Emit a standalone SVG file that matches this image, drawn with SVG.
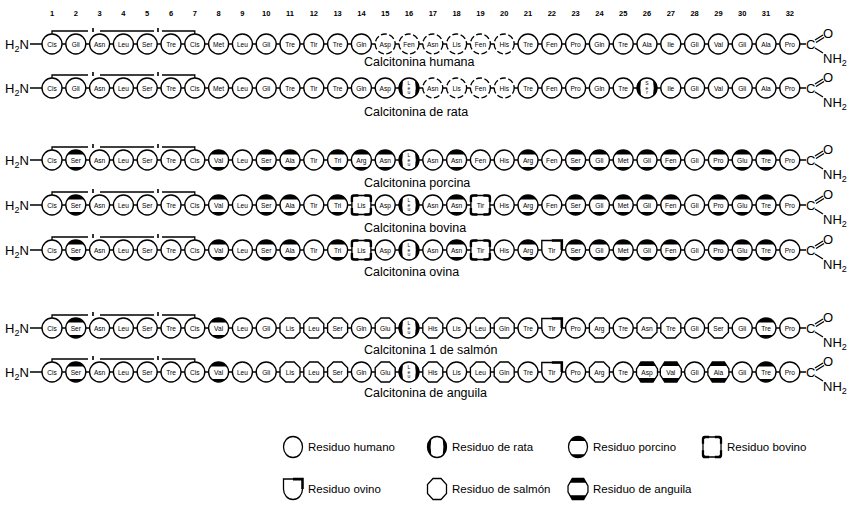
<svg xmlns="http://www.w3.org/2000/svg" xmlns:xlink="http://www.w3.org/1999/xlink" width="847" height="521" viewBox="0 0 847 521">
<style>
text{font-family:"Liberation Sans",Arial,sans-serif;fill:#000}
.t{font-size:6.6px;text-anchor:middle;dominant-baseline:central}
.v{font-size:5px;text-anchor:middle}
.num{font-size:7.5px;font-weight:bold;text-anchor:middle}
.lab{font-size:12.5px}
.chem{font-size:13px}
.sub{font-size:9px}
.leg{font-size:11.5px}
.bond{stroke:#000;stroke-width:1.3;fill:none}
.sh{fill:#fff;stroke:#000;stroke-width:1.35}
</style>
<defs>
<g id="h"><circle r="10" class="sh"/></g>
<g id="hd"><circle r="10" class="sh" stroke-dasharray="6 2.5"/></g>
<g id="rat"><circle r="10" class="sh"/><path d="M-4.5,-9A10,10 0 0 0 -4.5,9L-6,7.5Q-7.5,0 -6,-7.5Z M4.5,-9A10,10 0 0 1 4.5,9L6,7.5Q7.5,0 6,-7.5Z" fill="#000"/></g>
<g id="por"><circle r="10" class="sh"/><path d="M-8.3,-5.6A10,10 0 0 1 8.3,-5.6Z" fill="#000"/><path d="M-7.1,7A10,10 0 0 0 7.1,7Z" fill="#000"/></g>
<g id="bov"><rect x="-9.5" y="-9.5" width="19" height="19" rx="4" class="sh"/><path d="M-9.5,-3V-7.5Q-9.5,-9.5 -7.5,-9.5H-3 M3,-9.5H7.5Q9.5,-9.5 9.5,-7.5V-3 M9.5,3V7.5Q9.5,9.5 7.5,9.5H3 M-3,9.5H-7.5Q-9.5,9.5 -9.5,7.5V3" fill="none" stroke="#000" stroke-width="2.4"/></g>
<g id="ovi"><path d="M-10,0V-9.5H10V0A10,10 0 0 1 -10,0Z" class="sh"/><path d="M0,-9.5H10V0" fill="none" stroke="#000" stroke-width="2.6"/></g>
<g id="sal"><polygon points="-4.2,-10 4.2,-10 10,-4.2 10,4.2 4.2,10 -4.2,10 -10,4.2 -10,-4.2" class="sh"/></g>
<g id="ang"><polygon points="-6,-10 6,-10 10.5,-3 10.5,3 6,10 -6,10 -10.5,3 -10.5,-3" class="sh"/><path d="M-6,-10H6L8.6,-6H-8.6Z M-6,10H6L8.6,6H-8.6Z" fill="#000"/></g>
</defs>

<g id="numbers">
<text class="num" x="52" y="16">1</text><text class="num" x="75.8" y="16">2</text><text class="num" x="99.6" y="16">3</text><text class="num" x="123.4" y="16">4</text><text class="num" x="147.2" y="16">5</text><text class="num" x="171" y="16">6</text><text class="num" x="194.8" y="16">7</text><text class="num" x="218.6" y="16">8</text><text class="num" x="242.4" y="16">9</text><text class="num" x="266.2" y="16">10</text><text class="num" x="290" y="16">11</text><text class="num" x="313.8" y="16">12</text><text class="num" x="337.6" y="16">13</text><text class="num" x="361.4" y="16">14</text><text class="num" x="385.2" y="16">15</text><text class="num" x="409" y="16">16</text><text class="num" x="432.8" y="16">17</text><text class="num" x="456.6" y="16">18</text><text class="num" x="480.4" y="16">19</text><text class="num" x="504.2" y="16">20</text><text class="num" x="528" y="16">21</text><text class="num" x="551.8" y="16">22</text><text class="num" x="575.6" y="16">23</text><text class="num" x="599.4" y="16">24</text><text class="num" x="623.2" y="16">25</text><text class="num" x="647" y="16">26</text><text class="num" x="670.8" y="16">27</text><text class="num" x="694.6" y="16">28</text><text class="num" x="718.4" y="16">29</text><text class="num" x="742.2" y="16">30</text><text class="num" x="766" y="16">31</text><text class="num" x="789.8" y="16">32</text>
</g>

<g id="connectors">
<g transform="translate(0,44)"><path class="bond" d="M30,0H806 M52,-10V-13H88 M100,-13H154 M162,-13H194.8V-10"/><path d="M93,-16V-12 M158,-16V-12" stroke="#000" stroke-width="1.6"/><path class="bond" d="M815,-4L823,-9 M816,-1.5L824,-6.5 M815,4L823,9"/></g>
<g transform="translate(0,88)"><path class="bond" d="M30,0H806 M52,-10V-13H88 M100,-13H154 M162,-13H194.8V-10"/><path d="M93,-16V-12 M158,-16V-12" stroke="#000" stroke-width="1.6"/><path class="bond" d="M815,-4L823,-9 M816,-1.5L824,-6.5 M815,4L823,9"/></g>
<g transform="translate(0,160)"><path class="bond" d="M30,0H806 M52,-10V-13H88 M100,-13H154 M162,-13H194.8V-10"/><path d="M93,-16V-12 M158,-16V-12" stroke="#000" stroke-width="1.6"/><path class="bond" d="M815,-4L823,-9 M816,-1.5L824,-6.5 M815,4L823,9"/></g>
<g transform="translate(0,205)"><path class="bond" d="M30,0H806 M52,-10V-13H88 M100,-13H154 M162,-13H194.8V-10"/><path d="M93,-16V-12 M158,-16V-12" stroke="#000" stroke-width="1.6"/><path class="bond" d="M815,-4L823,-9 M816,-1.5L824,-6.5 M815,4L823,9"/></g>
<g transform="translate(0,250)"><path class="bond" d="M30,0H806 M52,-10V-13H88 M100,-13H154 M162,-13H194.8V-10"/><path d="M93,-16V-12 M158,-16V-12" stroke="#000" stroke-width="1.6"/><path class="bond" d="M815,-4L823,-9 M816,-1.5L824,-6.5 M815,4L823,9"/></g>
<g transform="translate(0,328)"><path class="bond" d="M30,0H806 M52,-10V-13H88 M100,-13H154 M162,-13H194.8V-10"/><path d="M93,-16V-12 M158,-16V-12" stroke="#000" stroke-width="1.6"/><path class="bond" d="M815,-4L823,-9 M816,-1.5L824,-6.5 M815,4L823,9"/></g>
<g transform="translate(0,372)"><path class="bond" d="M30,0H806 M52,-10V-13H88 M100,-13H154 M162,-13H194.8V-10"/><path d="M93,-16V-12 M158,-16V-12" stroke="#000" stroke-width="1.6"/><path class="bond" d="M815,-4L823,-9 M816,-1.5L824,-6.5 M815,4L823,9"/></g>
</g>

<g id="row-humana" transform="translate(0,44)">
<text class="chem" x="5" y="5">H<tspan class="sub" dy="3">2</tspan><tspan dy="-3">N</tspan></text>
<g id="r1-1" transform="translate(52)"><use href="#h"/><text class="t">Cis</text></g>
<g id="r1-2" transform="translate(75.8)"><use href="#h"/><text class="t">Gli</text></g>
<g id="r1-3" transform="translate(99.6)"><use href="#h"/><text class="t">Asn</text></g>
<g id="r1-4" transform="translate(123.4)"><use href="#h"/><text class="t">Leu</text></g>
<g id="r1-5" transform="translate(147.2)"><use href="#h"/><text class="t">Ser</text></g>
<g id="r1-6" transform="translate(171)"><use href="#h"/><text class="t">Tre</text></g>
<g id="r1-7" transform="translate(194.8)"><use href="#h"/><text class="t">Cis</text></g>
<g id="r1-8" transform="translate(218.6)"><use href="#h"/><text class="t">Met</text></g>
<g id="r1-9" transform="translate(242.4)"><use href="#h"/><text class="t">Leu</text></g>
<g id="r1-10" transform="translate(266.2)"><use href="#h"/><text class="t">Gli</text></g>
<g id="r1-11" transform="translate(290)"><use href="#h"/><text class="t">Tre</text></g>
<g id="r1-12" transform="translate(313.8)"><use href="#h"/><text class="t">Tir</text></g>
<g id="r1-13" transform="translate(337.6)"><use href="#h"/><text class="t">Tre</text></g>
<g id="r1-14" transform="translate(361.4)"><use href="#h"/><text class="t">Gln</text></g>
<g id="r1-15" transform="translate(385.2)"><use href="#hd"/><text class="t">Asp</text></g>
<g id="r1-16" transform="translate(409)"><use href="#hd"/><text class="t">Fen</text></g>
<g id="r1-17" transform="translate(432.8)"><use href="#hd"/><text class="t">Asn</text></g>
<g id="r1-18" transform="translate(456.6)"><use href="#hd"/><text class="t">Lis</text></g>
<g id="r1-19" transform="translate(480.4)"><use href="#hd"/><text class="t">Fen</text></g>
<g id="r1-20" transform="translate(504.2)"><use href="#hd"/><text class="t">His</text></g>
<g id="r1-21" transform="translate(528)"><use href="#h"/><text class="t">Tre</text></g>
<g id="r1-22" transform="translate(551.8)"><use href="#h"/><text class="t">Fen</text></g>
<g id="r1-23" transform="translate(575.6)"><use href="#h"/><text class="t">Pro</text></g>
<g id="r1-24" transform="translate(599.4)"><use href="#h"/><text class="t">Gln</text></g>
<g id="r1-25" transform="translate(623.2)"><use href="#h"/><text class="t">Tre</text></g>
<g id="r1-26" transform="translate(647)"><use href="#h"/><text class="t">Ala</text></g>
<g id="r1-27" transform="translate(670.8)"><use href="#h"/><text class="t">Ile</text></g>
<g id="r1-28" transform="translate(694.6)"><use href="#h"/><text class="t">Gli</text></g>
<g id="r1-29" transform="translate(718.4)"><use href="#h"/><text class="t">Val</text></g>
<g id="r1-30" transform="translate(742.2)"><use href="#h"/><text class="t">Gli</text></g>
<g id="r1-31" transform="translate(766)"><use href="#h"/><text class="t">Ala</text></g>
<g id="r1-32" transform="translate(789.8)"><use href="#h"/><text class="t">Pro</text></g>
<text class="chem" x="806" y="5">C</text><text class="chem" x="823" y="-6">O</text><text class="chem" x="823" y="19">NH<tspan class="sub" dy="3">2</tspan></text>
<text class="lab" x="364" y="22">Calcitonina humana</text>
</g>

<g id="row-rata" transform="translate(0,88)">
<text class="chem" x="5" y="5">H<tspan class="sub" dy="3">2</tspan><tspan dy="-3">N</tspan></text>
<g id="r2-1" transform="translate(52)"><use href="#h"/><text class="t">Cis</text></g>
<g id="r2-2" transform="translate(75.8)"><use href="#h"/><text class="t">Gli</text></g>
<g id="r2-3" transform="translate(99.6)"><use href="#h"/><text class="t">Asn</text></g>
<g id="r2-4" transform="translate(123.4)"><use href="#h"/><text class="t">Leu</text></g>
<g id="r2-5" transform="translate(147.2)"><use href="#h"/><text class="t">Ser</text></g>
<g id="r2-6" transform="translate(171)"><use href="#h"/><text class="t">Tre</text></g>
<g id="r2-7" transform="translate(194.8)"><use href="#h"/><text class="t">Cis</text></g>
<g id="r2-8" transform="translate(218.6)"><use href="#h"/><text class="t">Met</text></g>
<g id="r2-9" transform="translate(242.4)"><use href="#h"/><text class="t">Leu</text></g>
<g id="r2-10" transform="translate(266.2)"><use href="#h"/><text class="t">Gli</text></g>
<g id="r2-11" transform="translate(290)"><use href="#h"/><text class="t">Tre</text></g>
<g id="r2-12" transform="translate(313.8)"><use href="#h"/><text class="t">Tir</text></g>
<g id="r2-13" transform="translate(337.6)"><use href="#h"/><text class="t">Tre</text></g>
<g id="r2-14" transform="translate(361.4)"><use href="#h"/><text class="t">Gln</text></g>
<g id="r2-15" transform="translate(385.2)"><use href="#h"/><text class="t">Asp</text></g>
<g id="r2-16" transform="translate(409)"><use href="#rat"/><text class="v"><tspan x="0" y="-3">L</tspan><tspan x="0" y="1.5">e</tspan><tspan x="0" y="6">u</tspan></text></g>
<g id="r2-17" transform="translate(432.8)"><use href="#hd"/><text class="t">Asn</text></g>
<g id="r2-18" transform="translate(456.6)"><use href="#hd"/><text class="t">Lis</text></g>
<g id="r2-19" transform="translate(480.4)"><use href="#hd"/><text class="t">Fen</text></g>
<g id="r2-20" transform="translate(504.2)"><use href="#hd"/><text class="t">His</text></g>
<g id="r2-21" transform="translate(528)"><use href="#h"/><text class="t">Tre</text></g>
<g id="r2-22" transform="translate(551.8)"><use href="#h"/><text class="t">Fen</text></g>
<g id="r2-23" transform="translate(575.6)"><use href="#h"/><text class="t">Pro</text></g>
<g id="r2-24" transform="translate(599.4)"><use href="#h"/><text class="t">Gln</text></g>
<g id="r2-25" transform="translate(623.2)"><use href="#h"/><text class="t">Tre</text></g>
<g id="r2-26" transform="translate(647)"><use href="#rat"/><text class="v"><tspan x="0" y="-3">S</tspan><tspan x="0" y="1.5">e</tspan><tspan x="0" y="6">r</tspan></text></g>
<g id="r2-27" transform="translate(670.8)"><use href="#h"/><text class="t">Ile</text></g>
<g id="r2-28" transform="translate(694.6)"><use href="#h"/><text class="t">Gli</text></g>
<g id="r2-29" transform="translate(718.4)"><use href="#h"/><text class="t">Val</text></g>
<g id="r2-30" transform="translate(742.2)"><use href="#h"/><text class="t">Gli</text></g>
<g id="r2-31" transform="translate(766)"><use href="#h"/><text class="t">Ala</text></g>
<g id="r2-32" transform="translate(789.8)"><use href="#h"/><text class="t">Pro</text></g>
<text class="chem" x="806" y="5">C</text><text class="chem" x="823" y="-6">O</text><text class="chem" x="823" y="19">NH<tspan class="sub" dy="3">2</tspan></text>
<text class="lab" x="364" y="28">Calcitonina de rata</text>
</g>

<g id="row-porcina" transform="translate(0,160)">
<text class="chem" x="5" y="5">H<tspan class="sub" dy="3">2</tspan><tspan dy="-3">N</tspan></text>
<g id="r3-1" transform="translate(52)"><use href="#h"/><text class="t">Cis</text></g>
<g id="r3-2" transform="translate(75.8)"><use href="#por"/><text class="t">Ser</text></g>
<g id="r3-3" transform="translate(99.6)"><use href="#h"/><text class="t">Asn</text></g>
<g id="r3-4" transform="translate(123.4)"><use href="#h"/><text class="t">Leu</text></g>
<g id="r3-5" transform="translate(147.2)"><use href="#h"/><text class="t">Ser</text></g>
<g id="r3-6" transform="translate(171)"><use href="#h"/><text class="t">Tre</text></g>
<g id="r3-7" transform="translate(194.8)"><use href="#h"/><text class="t">Cis</text></g>
<g id="r3-8" transform="translate(218.6)"><use href="#por"/><text class="t">Val</text></g>
<g id="r3-9" transform="translate(242.4)"><use href="#h"/><text class="t">Leu</text></g>
<g id="r3-10" transform="translate(266.2)"><use href="#por"/><text class="t">Ser</text></g>
<g id="r3-11" transform="translate(290)"><use href="#por"/><text class="t">Ala</text></g>
<g id="r3-12" transform="translate(313.8)"><use href="#h"/><text class="t">Tir</text></g>
<g id="r3-13" transform="translate(337.6)"><use href="#por"/><text class="t">Tri</text></g>
<g id="r3-14" transform="translate(361.4)"><use href="#por"/><text class="t">Arg</text></g>
<g id="r3-15" transform="translate(385.2)"><use href="#por"/><text class="t">Asn</text></g>
<g id="r3-16" transform="translate(409)"><use href="#rat"/><text class="v"><tspan x="0" y="-3">L</tspan><tspan x="0" y="1.5">e</tspan><tspan x="0" y="6">u</tspan></text></g>
<g id="r3-17" transform="translate(432.8)"><use href="#h"/><text class="t">Asn</text></g>
<g id="r3-18" transform="translate(456.6)"><use href="#por"/><text class="t">Asn</text></g>
<g id="r3-19" transform="translate(480.4)"><use href="#h"/><text class="t">Fen</text></g>
<g id="r3-20" transform="translate(504.2)"><use href="#h"/><text class="t">His</text></g>
<g id="r3-21" transform="translate(528)"><use href="#por"/><text class="t">Arg</text></g>
<g id="r3-22" transform="translate(551.8)"><use href="#h"/><text class="t">Fen</text></g>
<g id="r3-23" transform="translate(575.6)"><use href="#por"/><text class="t">Ser</text></g>
<g id="r3-24" transform="translate(599.4)"><use href="#por"/><text class="t">Gli</text></g>
<g id="r3-25" transform="translate(623.2)"><use href="#por"/><text class="t">Met</text></g>
<g id="r3-26" transform="translate(647)"><use href="#por"/><text class="t">Gli</text></g>
<g id="r3-27" transform="translate(670.8)"><use href="#por"/><text class="t">Fen</text></g>
<g id="r3-28" transform="translate(694.6)"><use href="#h"/><text class="t">Gli</text></g>
<g id="r3-29" transform="translate(718.4)"><use href="#por"/><text class="t">Pro</text></g>
<g id="r3-30" transform="translate(742.2)"><use href="#por"/><text class="t">Glu</text></g>
<g id="r3-31" transform="translate(766)"><use href="#por"/><text class="t">Tre</text></g>
<g id="r3-32" transform="translate(789.8)"><use href="#h"/><text class="t">Pro</text></g>
<text class="chem" x="806" y="5">C</text><text class="chem" x="823" y="-6">O</text><text class="chem" x="823" y="19">NH<tspan class="sub" dy="3">2</tspan></text>
<text class="lab" x="364" y="27">Calcitonina porcina</text>
</g>

<g id="row-bovina" transform="translate(0,205)">
<text class="chem" x="5" y="5">H<tspan class="sub" dy="3">2</tspan><tspan dy="-3">N</tspan></text>
<g id="r4-1" transform="translate(52)"><use href="#h"/><text class="t">Cis</text></g>
<g id="r4-2" transform="translate(75.8)"><use href="#por"/><text class="t">Ser</text></g>
<g id="r4-3" transform="translate(99.6)"><use href="#h"/><text class="t">Asn</text></g>
<g id="r4-4" transform="translate(123.4)"><use href="#h"/><text class="t">Leu</text></g>
<g id="r4-5" transform="translate(147.2)"><use href="#h"/><text class="t">Ser</text></g>
<g id="r4-6" transform="translate(171)"><use href="#h"/><text class="t">Tre</text></g>
<g id="r4-7" transform="translate(194.8)"><use href="#h"/><text class="t">Cis</text></g>
<g id="r4-8" transform="translate(218.6)"><use href="#por"/><text class="t">Val</text></g>
<g id="r4-9" transform="translate(242.4)"><use href="#h"/><text class="t">Leu</text></g>
<g id="r4-10" transform="translate(266.2)"><use href="#por"/><text class="t">Ser</text></g>
<g id="r4-11" transform="translate(290)"><use href="#por"/><text class="t">Ala</text></g>
<g id="r4-12" transform="translate(313.8)"><use href="#h"/><text class="t">Tir</text></g>
<g id="r4-13" transform="translate(337.6)"><use href="#por"/><text class="t">Tri</text></g>
<g id="r4-14" transform="translate(361.4)"><use href="#bov"/><text class="t">Lis</text></g>
<g id="r4-15" transform="translate(385.2)"><use href="#h"/><text class="t">Asp</text></g>
<g id="r4-16" transform="translate(409)"><use href="#rat"/><text class="v"><tspan x="0" y="-3">L</tspan><tspan x="0" y="1.5">e</tspan><tspan x="0" y="6">u</tspan></text></g>
<g id="r4-17" transform="translate(432.8)"><use href="#h"/><text class="t">Asn</text></g>
<g id="r4-18" transform="translate(456.6)"><use href="#por"/><text class="t">Asn</text></g>
<g id="r4-19" transform="translate(480.4)"><use href="#bov"/><text class="t">Tir</text></g>
<g id="r4-20" transform="translate(504.2)"><use href="#h"/><text class="t">His</text></g>
<g id="r4-21" transform="translate(528)"><use href="#por"/><text class="t">Arg</text></g>
<g id="r4-22" transform="translate(551.8)"><use href="#h"/><text class="t">Fen</text></g>
<g id="r4-23" transform="translate(575.6)"><use href="#por"/><text class="t">Ser</text></g>
<g id="r4-24" transform="translate(599.4)"><use href="#por"/><text class="t">Gli</text></g>
<g id="r4-25" transform="translate(623.2)"><use href="#por"/><text class="t">Met</text></g>
<g id="r4-26" transform="translate(647)"><use href="#por"/><text class="t">Gli</text></g>
<g id="r4-27" transform="translate(670.8)"><use href="#por"/><text class="t">Fen</text></g>
<g id="r4-28" transform="translate(694.6)"><use href="#h"/><text class="t">Gli</text></g>
<g id="r4-29" transform="translate(718.4)"><use href="#por"/><text class="t">Pro</text></g>
<g id="r4-30" transform="translate(742.2)"><use href="#por"/><text class="t">Glu</text></g>
<g id="r4-31" transform="translate(766)"><use href="#por"/><text class="t">Tre</text></g>
<g id="r4-32" transform="translate(789.8)"><use href="#h"/><text class="t">Pro</text></g>
<text class="chem" x="806" y="5">C</text><text class="chem" x="823" y="-6">O</text><text class="chem" x="823" y="19">NH<tspan class="sub" dy="3">2</tspan></text>
<text class="lab" x="364" y="27">Calcitonina bovina</text>
</g>

<g id="row-ovina" transform="translate(0,250)">
<text class="chem" x="5" y="5">H<tspan class="sub" dy="3">2</tspan><tspan dy="-3">N</tspan></text>
<g id="r5-1" transform="translate(52)"><use href="#h"/><text class="t">Cis</text></g>
<g id="r5-2" transform="translate(75.8)"><use href="#por"/><text class="t">Ser</text></g>
<g id="r5-3" transform="translate(99.6)"><use href="#h"/><text class="t">Asn</text></g>
<g id="r5-4" transform="translate(123.4)"><use href="#h"/><text class="t">Leu</text></g>
<g id="r5-5" transform="translate(147.2)"><use href="#h"/><text class="t">Ser</text></g>
<g id="r5-6" transform="translate(171)"><use href="#h"/><text class="t">Tre</text></g>
<g id="r5-7" transform="translate(194.8)"><use href="#h"/><text class="t">Cis</text></g>
<g id="r5-8" transform="translate(218.6)"><use href="#por"/><text class="t">Val</text></g>
<g id="r5-9" transform="translate(242.4)"><use href="#h"/><text class="t">Leu</text></g>
<g id="r5-10" transform="translate(266.2)"><use href="#por"/><text class="t">Ser</text></g>
<g id="r5-11" transform="translate(290)"><use href="#por"/><text class="t">Ala</text></g>
<g id="r5-12" transform="translate(313.8)"><use href="#h"/><text class="t">Tir</text></g>
<g id="r5-13" transform="translate(337.6)"><use href="#por"/><text class="t">Tri</text></g>
<g id="r5-14" transform="translate(361.4)"><use href="#bov"/><text class="t">Lis</text></g>
<g id="r5-15" transform="translate(385.2)"><use href="#h"/><text class="t">Asp</text></g>
<g id="r5-16" transform="translate(409)"><use href="#rat"/><text class="v"><tspan x="0" y="-3">L</tspan><tspan x="0" y="1.5">e</tspan><tspan x="0" y="6">u</tspan></text></g>
<g id="r5-17" transform="translate(432.8)"><use href="#h"/><text class="t">Asn</text></g>
<g id="r5-18" transform="translate(456.6)"><use href="#por"/><text class="t">Asn</text></g>
<g id="r5-19" transform="translate(480.4)"><use href="#bov"/><text class="t">Tir</text></g>
<g id="r5-20" transform="translate(504.2)"><use href="#h"/><text class="t">His</text></g>
<g id="r5-21" transform="translate(528)"><use href="#por"/><text class="t">Arg</text></g>
<g id="r5-22" transform="translate(551.8)"><use href="#ovi"/><text class="t">Tir</text></g>
<g id="r5-23" transform="translate(575.6)"><use href="#por"/><text class="t">Ser</text></g>
<g id="r5-24" transform="translate(599.4)"><use href="#por"/><text class="t">Gli</text></g>
<g id="r5-25" transform="translate(623.2)"><use href="#por"/><text class="t">Met</text></g>
<g id="r5-26" transform="translate(647)"><use href="#por"/><text class="t">Gli</text></g>
<g id="r5-27" transform="translate(670.8)"><use href="#por"/><text class="t">Fen</text></g>
<g id="r5-28" transform="translate(694.6)"><use href="#h"/><text class="t">Gli</text></g>
<g id="r5-29" transform="translate(718.4)"><use href="#por"/><text class="t">Pro</text></g>
<g id="r5-30" transform="translate(742.2)"><use href="#por"/><text class="t">Glu</text></g>
<g id="r5-31" transform="translate(766)"><use href="#por"/><text class="t">Tre</text></g>
<g id="r5-32" transform="translate(789.8)"><use href="#h"/><text class="t">Pro</text></g>
<text class="chem" x="806" y="5">C</text><text class="chem" x="823" y="-6">O</text><text class="chem" x="823" y="19">NH<tspan class="sub" dy="3">2</tspan></text>
<text class="lab" x="364" y="26">Calcitonina ovina</text>
</g>

<g id="row-salmon" transform="translate(0,328)">
<text class="chem" x="5" y="5">H<tspan class="sub" dy="3">2</tspan><tspan dy="-3">N</tspan></text>
<g id="r6-1" transform="translate(52)"><use href="#h"/><text class="t">Cis</text></g>
<g id="r6-2" transform="translate(75.8)"><use href="#por"/><text class="t">Ser</text></g>
<g id="r6-3" transform="translate(99.6)"><use href="#h"/><text class="t">Asn</text></g>
<g id="r6-4" transform="translate(123.4)"><use href="#h"/><text class="t">Leu</text></g>
<g id="r6-5" transform="translate(147.2)"><use href="#h"/><text class="t">Ser</text></g>
<g id="r6-6" transform="translate(171)"><use href="#h"/><text class="t">Tre</text></g>
<g id="r6-7" transform="translate(194.8)"><use href="#h"/><text class="t">Cis</text></g>
<g id="r6-8" transform="translate(218.6)"><use href="#por"/><text class="t">Val</text></g>
<g id="r6-9" transform="translate(242.4)"><use href="#h"/><text class="t">Leu</text></g>
<g id="r6-10" transform="translate(266.2)"><use href="#h"/><text class="t">Gli</text></g>
<g id="r6-11" transform="translate(290)"><use href="#sal"/><text class="t">Lis</text></g>
<g id="r6-12" transform="translate(313.8)"><use href="#sal"/><text class="t">Leu</text></g>
<g id="r6-13" transform="translate(337.6)"><use href="#sal"/><text class="t">Ser</text></g>
<g id="r6-14" transform="translate(361.4)"><use href="#h"/><text class="t">Gln</text></g>
<g id="r6-15" transform="translate(385.2)"><use href="#sal"/><text class="t">Glu</text></g>
<g id="r6-16" transform="translate(409)"><use href="#rat"/><text class="v"><tspan x="0" y="-3">L</tspan><tspan x="0" y="1.5">e</tspan><tspan x="0" y="6">u</tspan></text></g>
<g id="r6-17" transform="translate(432.8)"><use href="#sal"/><text class="t">His</text></g>
<g id="r6-18" transform="translate(456.6)"><use href="#h"/><text class="t">Lis</text></g>
<g id="r6-19" transform="translate(480.4)"><use href="#sal"/><text class="t">Leu</text></g>
<g id="r6-20" transform="translate(504.2)"><use href="#sal"/><text class="t">Gln</text></g>
<g id="r6-21" transform="translate(528)"><use href="#h"/><text class="t">Tre</text></g>
<g id="r6-22" transform="translate(551.8)"><use href="#ovi"/><text class="t">Tir</text></g>
<g id="r6-23" transform="translate(575.6)"><use href="#h"/><text class="t">Pro</text></g>
<g id="r6-24" transform="translate(599.4)"><use href="#sal"/><text class="t">Arg</text></g>
<g id="r6-25" transform="translate(623.2)"><use href="#h"/><text class="t">Tre</text></g>
<g id="r6-26" transform="translate(647)"><use href="#sal"/><text class="t">Asn</text></g>
<g id="r6-27" transform="translate(670.8)"><use href="#sal"/><text class="t">Tre</text></g>
<g id="r6-28" transform="translate(694.6)"><use href="#h"/><text class="t">Gli</text></g>
<g id="r6-29" transform="translate(718.4)"><use href="#sal"/><text class="t">Ser</text></g>
<g id="r6-30" transform="translate(742.2)"><use href="#h"/><text class="t">Gli</text></g>
<g id="r6-31" transform="translate(766)"><use href="#por"/><text class="t">Tre</text></g>
<g id="r6-32" transform="translate(789.8)"><use href="#h"/><text class="t">Pro</text></g>
<text class="chem" x="806" y="5">C</text><text class="chem" x="823" y="-6">O</text><text class="chem" x="823" y="19">NH<tspan class="sub" dy="3">2</tspan></text>
<text class="lab" x="364" y="26">Calcitonina 1 de salmón</text>
</g>

<g id="row-anguila" transform="translate(0,372)">
<text class="chem" x="5" y="5">H<tspan class="sub" dy="3">2</tspan><tspan dy="-3">N</tspan></text>
<g id="r7-1" transform="translate(52)"><use href="#h"/><text class="t">Cis</text></g>
<g id="r7-2" transform="translate(75.8)"><use href="#por"/><text class="t">Ser</text></g>
<g id="r7-3" transform="translate(99.6)"><use href="#h"/><text class="t">Asn</text></g>
<g id="r7-4" transform="translate(123.4)"><use href="#h"/><text class="t">Leu</text></g>
<g id="r7-5" transform="translate(147.2)"><use href="#h"/><text class="t">Ser</text></g>
<g id="r7-6" transform="translate(171)"><use href="#h"/><text class="t">Tre</text></g>
<g id="r7-7" transform="translate(194.8)"><use href="#h"/><text class="t">Cis</text></g>
<g id="r7-8" transform="translate(218.6)"><use href="#por"/><text class="t">Val</text></g>
<g id="r7-9" transform="translate(242.4)"><use href="#h"/><text class="t">Leu</text></g>
<g id="r7-10" transform="translate(266.2)"><use href="#h"/><text class="t">Gli</text></g>
<g id="r7-11" transform="translate(290)"><use href="#sal"/><text class="t">Lis</text></g>
<g id="r7-12" transform="translate(313.8)"><use href="#sal"/><text class="t">Leu</text></g>
<g id="r7-13" transform="translate(337.6)"><use href="#sal"/><text class="t">Ser</text></g>
<g id="r7-14" transform="translate(361.4)"><use href="#h"/><text class="t">Gln</text></g>
<g id="r7-15" transform="translate(385.2)"><use href="#sal"/><text class="t">Glu</text></g>
<g id="r7-16" transform="translate(409)"><use href="#rat"/><text class="v"><tspan x="0" y="-3">L</tspan><tspan x="0" y="1.5">e</tspan><tspan x="0" y="6">u</tspan></text></g>
<g id="r7-17" transform="translate(432.8)"><use href="#sal"/><text class="t">His</text></g>
<g id="r7-18" transform="translate(456.6)"><use href="#h"/><text class="t">Lis</text></g>
<g id="r7-19" transform="translate(480.4)"><use href="#sal"/><text class="t">Leu</text></g>
<g id="r7-20" transform="translate(504.2)"><use href="#sal"/><text class="t">Gln</text></g>
<g id="r7-21" transform="translate(528)"><use href="#h"/><text class="t">Tre</text></g>
<g id="r7-22" transform="translate(551.8)"><use href="#ovi"/><text class="t">Tir</text></g>
<g id="r7-23" transform="translate(575.6)"><use href="#h"/><text class="t">Pro</text></g>
<g id="r7-24" transform="translate(599.4)"><use href="#sal"/><text class="t">Arg</text></g>
<g id="r7-25" transform="translate(623.2)"><use href="#h"/><text class="t">Tre</text></g>
<g id="r7-26" transform="translate(647)"><use href="#ang"/><text class="t">Asp</text></g>
<g id="r7-27" transform="translate(670.8)"><use href="#ang"/><text class="t">Val</text></g>
<g id="r7-28" transform="translate(694.6)"><use href="#h"/><text class="t">Gli</text></g>
<g id="r7-29" transform="translate(718.4)"><use href="#ang"/><text class="t">Ala</text></g>
<g id="r7-30" transform="translate(742.2)"><use href="#h"/><text class="t">Gli</text></g>
<g id="r7-31" transform="translate(766)"><use href="#por"/><text class="t">Tre</text></g>
<g id="r7-32" transform="translate(789.8)"><use href="#h"/><text class="t">Pro</text></g>
<text class="chem" x="806" y="5">C</text><text class="chem" x="823" y="-6">O</text><text class="chem" x="823" y="19">NH<tspan class="sub" dy="3">2</tspan></text>
<text class="lab" x="364" y="25">Calcitonina de anguila</text>
</g>

<g id="legend">
<g id="leg-humano" transform="translate(293,447)"><use href="#h" transform="scale(0.95,1.05)"/><text class="leg" x="15" y="4">Residuo humano</text></g>
<g id="leg-rata" transform="translate(437,447)"><use href="#rat" transform="scale(0.95,1.05)"/><text class="leg" x="15" y="4">Residuo de rata</text></g>
<g id="leg-porcino" transform="translate(578,447)"><use href="#por" transform="scale(0.95,1.05)"/><text class="leg" x="15" y="4">Residuo porcino</text></g>
<g id="leg-bovino" transform="translate(712,447)"><use href="#bov" transform="scale(0.95,1.05)"/><text class="leg" x="15" y="4">Residuo bovino</text></g>
<g id="leg-ovino" transform="translate(293,489)"><use href="#ovi" transform="scale(0.95,1.05)"/><text class="leg" x="15" y="4">Residuo ovino</text></g>
<g id="leg-salmon" transform="translate(437,489)"><use href="#sal" transform="scale(0.95,1.05)"/><text class="leg" x="15" y="4">Residuo de salmón</text></g>
<g id="leg-anguila" transform="translate(578,489)"><use href="#ang" transform="scale(0.95,1.05)"/><text class="leg" x="15" y="4">Residuo de anguila</text></g>
</g>
</svg>
